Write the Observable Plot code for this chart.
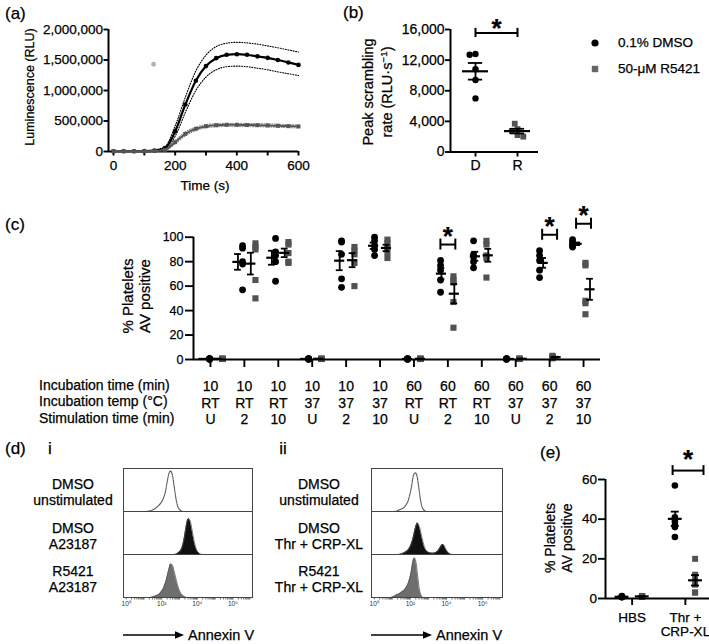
<!DOCTYPE html>
<html>
<head>
<meta charset="utf-8">
<script src="https://cdn.jsdelivr.net/npm/d3@7"></script>
<script src="https://cdn.jsdelivr.net/npm/@observablehq/plot@0.6"></script>
<style>
  html, body { margin:0; padding:0; background:#fff; overflow:hidden; }
  #fig { position:relative; width:709px; height:644px; overflow:hidden; background:#fff;
         font-family:"Liberation Sans", Arial, Helvetica, sans-serif; color:#000; }
  .abs { position:absolute; }
  .lbl { position:absolute; white-space:nowrap; -webkit-text-stroke:0.25px #000; }
  .lbl sup { font-size:0.68em; line-height:0; vertical-align:0.55em; }
  .thick svg text { stroke:#000; stroke-width:0.25px; }
  .thick svg g[aria-label*="axis"] path, .thick svg g[aria-label*="axis"] line { stroke-width:1.9px; }
  .thin svg g[aria-label*="axis"] path, .thin svg g[aria-label*="axis"] line { stroke-width:0.7px; }
</style>
</head>
<body>
<div id="fig"></div>
<script>
const FONT = '"Liberation Sans", Arial, Helvetica, sans-serif';
const fig = document.getElementById("fig");

// ================= DATA =================
// (a) luminescence time course (RLU)
const timeS      = [0, 33, 67, 100, 133, 167, 200, 233, 267, 300, 333, 367, 400, 433, 467, 500, 533, 567, 600];
const dmsoMean   = [5000, 5000, 5000, 6000, 15000, 55000, 330000, 770000, 1160000, 1400000, 1530000, 1585000, 1595000, 1585000, 1560000, 1535000, 1500000, 1460000, 1420000];
const dmsoUpper  = [10000, 10000, 10000, 12000, 28000, 80000, 420000, 890000, 1320000, 1580000, 1720000, 1775000, 1790000, 1780000, 1760000, 1730000, 1700000, 1665000, 1630000];
const dmsoLower  = [0, 0, 0, 0, 5000, 30000, 250000, 640000, 1000000, 1220000, 1340000, 1390000, 1400000, 1390000, 1365000, 1340000, 1305000, 1275000, 1245000];
const r5421Mean  = [5000, 5000, 5000, 5000, 8000, 27000, 153000, 290000, 372000, 415000, 431000, 437000, 437000, 434000, 432000, 428000, 422000, 416000, 410000];
const r5421Upper = [10000, 10000, 10000, 10000, 14000, 38000, 185000, 325000, 400000, 442000, 456000, 462000, 462000, 459000, 457000, 453000, 447000, 441000, 435000];
const r5421Lower = [0, 0, 0, 0, 3000, 16000, 120000, 255000, 342000, 388000, 405000, 412000, 412000, 409000, 407000, 403000, 397000, 391000, 385000];
const strayTime  = [130];
const strayValue = [1430000];

// (b) peak scrambling rate (RLU/s)
const peakGroups = ["D", "R"];
const peakDMSO   = [12800, 12700, 10800, 9400, 7000];
const peakR5421  = [3000, 3700, 2750, 2200, 2000];

// (c) % platelets AV positive
const incTime  = ["10", "10", "10", "10", "10", "10", "60", "60", "60", "60", "60", "60"];
const incTemp  = ["RT", "RT", "RT", "37", "37", "37", "RT", "RT", "RT", "37", "37", "37"];
const stimTime = ["U", "2", "10", "U", "2", "10", "U", "2", "10", "U", "2", "10"];
const avDMSO = [
  [0.5, 0.4, 0.6, 0.3, 0.5], [93, 91, 80, 78, 57], [99, 88, 85, 80, 64],
  [0.5, 0.4, 0.6, 0.3, 0.5], [97, 96, 86, 66, 59], [100, 97, 93, 90, 85],
  [0.5, 0.4, 0.6, 0.3, 0.5], [81, 77, 73, 65, 55], [97, 86, 84, 80, 75],
  [0.5, 0.4, 0.6, 0.3, 0.5], [89, 85, 81, 73, 67], [98, 96, 94, 93, 92]
];
const avR5421 = [
  [0.6, 0.5, 0.4, 0.7, 0.5], [95, 92, 90, 65, 50], [96, 94, 87, 80, 79],
  [0.6, 0.5, 0.4, 0.7, 0.5], [92, 89, 86, 79, 60], [98, 95, 92, 88, 83],
  [0.6, 0.5, 0.4, 0.7, 0.5], [68, 65, 63, 47, 26], [97, 94, 85, 83, 67],
  [0.6, 0.5, 0.4, 0.7, 0.5], [2, 1.5, 3, 1, 2], [79, 77, 48, 46, 37]
];
const sigC = [7, 10, 11];

// (d) flow cytometry histograms (log10 Annexin V, normalised count)
const fI_unstimX = [-0.15, 1.1, 1.5, 1.8, 2.05, 2.2, 2.3, 2.4, 2.5, 2.6, 2.7, 2.8, 2.9, 3.05, 3.2, 7.1];
const fI_unstimY = [0, 0, 0.04, 0.13, 0.27, 0.45, 0.68, 0.88, 0.94, 0.84, 0.58, 0.3, 0.12, 0.03, 0, 0];
const fI_dmsoX   = [-0.15, 2.7, 2.9, 3.1, 3.25, 3.35, 3.45, 3.52, 3.6, 3.7, 3.8, 3.95, 4.1, 4.25, 7.1];
const fI_dmsoY   = [0, 0, 0.03, 0.12, 0.35, 0.6, 0.8, 0.83, 0.78, 0.58, 0.35, 0.12, 0.03, 0, 0];
const fI_r5421X  = [-0.15, 1.3, 1.6, 1.9, 2.1, 2.25, 2.4, 2.5, 2.6, 2.7, 2.85, 3.0, 3.2, 3.4, 7.1];
const fI_r5421Y  = [0, 0, 0.03, 0.1, 0.22, 0.4, 0.65, 0.78, 0.75, 0.6, 0.35, 0.15, 0.04, 0, 0];
const fII_unstimX = [-0.15, 1.1, 1.4, 1.7, 1.9, 2.05, 2.18, 2.28, 2.37, 2.47, 2.57, 2.7, 2.9, 7.1];
const fII_unstimY = [0, 0, 0.04, 0.12, 0.28, 0.55, 0.85, 0.9, 0.82, 0.55, 0.25, 0.06, 0, 0];
const fII_dmsoX   = [-0.15, 1.35, 1.65, 1.95, 2.15, 2.3, 2.4, 2.5, 2.65, 2.8, 3.0, 3.25, 3.5, 3.65, 3.78, 3.85, 3.95, 4.1, 4.3, 7.1];
const fII_dmsoY   = [0, 0, 0.04, 0.15, 0.38, 0.65, 0.73, 0.65, 0.38, 0.15, 0.05, 0.03, 0.07, 0.16, 0.23, 0.22, 0.14, 0.04, 0, 0];
const fII_r5421X  = [-0.15, 0.9, 1.2, 1.5, 1.75, 1.9, 2.05, 2.15, 2.23, 2.32, 2.42, 2.52, 2.7, 7.1];
const fII_r5421Y  = [0, 0, 0.05, 0.12, 0.22, 0.35, 0.6, 0.85, 0.92, 0.8, 0.45, 0.15, 0, 0];

// (e) % platelets AV positive
const eGroups = ["HBS", "Thr +\nCRP-XL"];
const eDMSO  = [[1.0, 0.8, 0.6, 1.2, 0.9, 0.7], [57, 41, 39, 37, 36, 31]];
const eR5421 = [[1.1, 1.3, 0.9, 1.0, 0.8, 1.2], [20, 12, 10, 7, 3, 3]];
const sigE = [1];

// ================= HELPERS =================
const styleBase = (size, color = "#000") => ({background: "transparent", overflow: "visible", fontFamily: FONT, fontSize: size + "px", color});
function place(node, left, top, width, cls = "") {
  const d = document.createElement("div");
  d.className = "abs " + cls;
  Object.assign(d.style, {left: left + "px", top: top + "px", width: width + "px"});
  d.appendChild(node);
  fig.appendChild(d);
}
function label(html, o) {
  const d = document.createElement("div");
  d.className = "lbl";
  d.innerHTML = html;
  const size = o.size, lh = o.lh ?? size * 1.15;
  d.style.fontSize = size + "px";
  d.style.lineHeight = lh + "px";
  if (o.weight) d.style.fontWeight = o.weight;
  const n = html.split("<br>").length;
  if (o.rot) {
    Object.assign(d.style, {left: o.x + "px", top: o.cy + "px", textAlign: "center", transform: "translate(-50%,-50%) rotate(-90deg)"});
  } else {
    d.style.top = (o.cy - n * lh / 2) + "px";
    d.style.left = o.x + "px";
    if (o.align === "center") { d.style.transform = "translateX(-50%)"; d.style.textAlign = "center"; }
  }
  fig.appendChild(d);
}
function stat(v) {
  const m = d3.mean(v), s = d3.deviation(v) / Math.sqrt(v.length);
  return {mean: m, lo: m - s, hi: m + s};
}

function scatterPanel(c) {
  const inset = c.inset ?? 0;
  const frameW = c.W - c.mL - c.mR - inset;
  const pxPerUnit = frameW / (c.xDomain[1] - c.xDomain[0]);
  const rows = c.groups.flatMap((g, i) => [
    ...g.dmso.map(v => ({cat: i, s: "D", v})),
    ...g.r5421.map(v => ({cat: i, s: "R", v}))
  ]);
  const stats = c.groups.flatMap((g, i) => [
    ...(g.dmso.length ? [{x: i - c.off, ...stat(g.dmso)}] : []),
    ...(g.r5421.length ? [{x: i + c.off, ...stat(g.r5421)}] : [])
  ]);
  const dots = Plot.plot({
    width: c.W, height: c.H, marginLeft: c.mL + inset, marginRight: c.mR, marginTop: c.mT, marginBottom: c.mB,
    style: styleBase(c.font),
    fx: {domain: c.groups.map((g, i) => i), padding: 0, axis: null},
    y: {domain: c.yDomain, axis: null},
    marks: [
      Plot.dot(rows.filter(d => d.s === "D"), Plot.dodgeX({anchor: "middle", padding: c.pad},
        {fx: "cat", y: "v", r: c.r, fill: "#000", dx: -c.off * pxPerUnit})),
      Plot.dot(rows.filter(d => d.s === "R"), Plot.dodgeX({anchor: "middle", padding: c.pad},
        {fx: "cat", y: "v", r: c.r * 1.02, symbol: "square", fill: "#525252", dx: c.off * pxPerUnit}))
    ]
  });
  const main = Plot.plot({
    width: c.W, height: c.H, marginLeft: c.mL, marginRight: c.mR, marginTop: c.mT, marginBottom: c.mB, insetLeft: inset,
    style: styleBase(c.font),
    x: {domain: c.xDomain, ticks: c.xTicks, tickFormat: c.xFmt, tickSize: c.tick, tickPadding: c.xPad ?? 3, label: null},
    y: {domain: c.yDomain, ticks: c.yTicks, tickFormat: c.yFmt, tickSize: c.tick, tickPadding: c.yPad ?? 1.5, label: null},
    marks: [
      Plot.ruleY([c.yDomain[0]], {strokeWidth: 2}),
      Plot.ruleX([c.xDomain[0]], {dx: -inset, y1: c.yDomain[0], y2: c.yDomain[1], strokeWidth: 2}),
      Plot.ruleX(stats, {x: "x", y1: "lo", y2: "hi", strokeWidth: 1.8}),
      Plot.ruleY(stats, {y: "lo", x1: d => d.x - c.cw, x2: d => d.x + c.cw, strokeWidth: 1.8}),
      Plot.ruleY(stats, {y: "hi", x1: d => d.x - c.cw, x2: d => d.x + c.cw, strokeWidth: 1.8}),
      Plot.ruleY(stats, {y: "mean", x1: d => d.x - c.hw, x2: d => d.x + c.hw, strokeWidth: 2.2}),
      Plot.ruleY(c.brackets, {y: "y", x1: "x1", x2: "x2", strokeWidth: 2}),
      Plot.ruleX(c.brackets, {x: "x1", y1: d => d.y - c.capH, y2: d => d.y + c.capH, strokeWidth: 2}),
      Plot.ruleX(c.brackets, {x: "x2", y1: d => d.y - c.capH, y2: d => d.y + c.capH, strokeWidth: 2}),
      Plot.text(c.brackets, {x: d => (d.x1 + d.x2) / 2, y: "y", text: () => "*", dy: c.starDy, fontSize: 26, fontWeight: "bold"}),
      ...(c.extra ?? [])
    ]
  });
  place(dots, c.left, c.top, c.W);
  place(main, c.left, c.top, c.W, "thick");
}

// ================= (a) =================
const aRows = timeS.map((t, i) => ({t, dm: dmsoMean[i], du: dmsoUpper[i], dl: dmsoLower[i], rm: r5421Mean[i], ru: r5421Upper[i], rl: r5421Lower[i]}));
const plotA = Plot.plot({
  width: 320, height: 185, marginLeft: 108, marginRight: 22, marginTop: 29, marginBottom: 34, insetLeft: 5,
  style: styleBase(13.5),
  x: {domain: [0, 600], ticks: d3.range(0, 601, 100), tickFormat: d => d % 200 === 0 ? String(d) : "", tickSize: 4.5, tickPadding: 4, label: null},
  y: {domain: [0, 2000000], ticks: [0, 500000, 1000000, 1500000, 2000000], tickFormat: d3.format(","), tickSize: 4.5, tickPadding: 1, label: null},
  marks: [
    Plot.ruleY([0], {strokeWidth: 2}),
    Plot.ruleX([0], {dx: -5, strokeWidth: 2}),
    Plot.lineY(aRows, {x: "t", y: "du", stroke: "#000", strokeWidth: 1.1, strokeDasharray: "1,1.6", curve: "monotone-x"}),
    Plot.lineY(aRows, {x: "t", y: "dl", stroke: "#000", strokeWidth: 1.1, strokeDasharray: "1,1.6", curve: "monotone-x"}),
    Plot.lineY(aRows, {x: "t", y: "dm", stroke: "#000", strokeWidth: 2.2, curve: "monotone-x"}),
    Plot.dot(aRows, {x: "t", y: "dm", r: 2.3, fill: "#000"}),
    Plot.lineY(aRows, {x: "t", y: "ru", stroke: "#777", strokeWidth: 1, strokeDasharray: "1,1.6", curve: "monotone-x"}),
    Plot.lineY(aRows, {x: "t", y: "rl", stroke: "#777", strokeWidth: 1, strokeDasharray: "1,1.6", curve: "monotone-x"}),
    Plot.lineY(aRows, {x: "t", y: "rm", stroke: "#555", strokeWidth: 2, curve: "monotone-x"}),
    Plot.dot(aRows, {x: "t", y: "rm", r: 2.2, symbol: "square", fill: "#555"}),
    Plot.dot(strayTime.map((t, i) => ({t, v: strayValue[i]})), {x: "t", y: "v", r: 2.4, fill: "#b3b3b3"})
  ]
});
place(plotA, 0, 0, 320, "thick");

// ================= (b) =================
scatterPanel({
  left: 360, top: 0, W: 200, H: 185, mL: 90, mR: 22, mT: 29, mB: 33.5, inset: 4,
  xDomain: [-0.5, 1.5], xTicks: [0, 1], xFmt: i => peakGroups[i],
  yDomain: [0, 16000], yTicks: [0, 4000, 8000, 12000, 16000], yFmt: d3.format(","),
  tick: 5, font: 14, xPad: 3, yPad: 1,
  groups: [{dmso: peakDMSO, r5421: []}, {dmso: [], r5421: peakR5421}],
  off: 0, hw: 0.31, cw: 0.17, r: 3.2, pad: -0.5,
  brackets: [{x1: 0, x2: 1, y: d3.max(peakDMSO) + 2750}], capH: 600, starDy: -4
});

// ================= (c) =================
scatterPanel({
  left: 0, top: 200, W: 620, H: 240, mL: 193, mR: 20, mT: 36.7, mB: 81,
  xDomain: [-0.5, 11.5], xTicks: d3.range(incTime.length), xFmt: () => "",
  yDomain: [0, 100], yTicks: [0, 20, 40, 60, 80, 100], yFmt: d => String(d),
  tick: 8, font: 12.5, yPad: 2,
  groups: incTime.map((t, i) => ({dmso: avDMSO[i], r5421: avR5421[i]})),
  off: 0.19, hw: 0.15, cw: 0.1, r: 3.4, pad: -5,
  brackets: sigC.map(i => ({x1: i - 0.22, x2: i + 0.22, y: Math.max(d3.max(avDMSO[i]), d3.max(avR5421[i])) + 13})),
  capH: 4.5, starDy: -8,
  extra: [
    Plot.text(incTime.map((t, i) => ({x: i, label: `${t}\n${incTemp[i]}\n${stimTime[i]}`})),
      {x: "x", frameAnchor: "bottom", text: "label", dy: 42.7, lineAnchor: "middle", lineHeight: 1.19, fontSize: 14})
  ]
});

// ================= (e) =================
scatterPanel({
  left: 540, top: 440, W: 175, H: 204, mL: 65, mR: 3.5, mT: 39, mB: 46,
  xDomain: [-0.5, 1.5], xTicks: [0, 1], xFmt: () => "",
  yDomain: [0, 60], yTicks: [0, 20, 40, 60], yFmt: d => String(d),
  tick: 7, font: 13.5, yPad: 1.5,
  groups: eGroups.map((g, i) => ({dmso: eDMSO[i], r5421: eR5421[i]})),
  off: 0.19, hw: 0.13, cw: 0.075, r: 3.3, pad: -3.6,
  brackets: sigE.map(i => ({x1: i - 0.24, x2: i + 0.34, y: d3.max(eDMSO[i]) + 7.5})),
  capH: 2.5, starDy: -11,
  extra: [
    Plot.text(eGroups.map((g, i) => ({x: i, label: g})),
      {x: "x", frameAnchor: "bottom", text: "label", dy: 13, lineAnchor: "top", lineHeight: 1.05, fontSize: 13.5})
  ]
});

// ================= (d) =================
function flowPanel(mL, curves) {
  const rows = curves.flatMap(c => c.x.map((x, i) => ({row: c.row, x, y: c.y[i]})));
  const pick = k => rows.filter(d => d.row === k);
  const domain = [-0.15, 7.1];
  const ticks = d3.range(0, 7).flatMap(n => d3.range(1, 10).map(k => n + Math.log10(k))).filter(v => v <= domain[1]);
  const sup = {0: "\u2070", 2: "\u00B2", 4: "\u2074", 6: "\u2076"};
  const C = {x: "x", y: "y", fy: "row", curve: "monotone-x"};
  return Plot.plot({
    width: 165, height: 160, marginLeft: mL, marginRight: 13, marginTop: 7, marginBottom: 23,
    style: styleBase(6.5, "#333"),
    fy: {domain: ["r1", "r2", "r3"], padding: 0, axis: null},
    x: {domain, ticks, tickFormat: d => {
          const n = Math.round(d);
          return Math.abs(d - n) < 1e-9 && n % 2 === 0 ? "10" + sup[n] : "";
        }, tickSize: 2.5, tickPadding: 1.5, label: null},
    y: {domain: [0, 1], axis: null},
    marks: [
      Plot.areaY(pick("r1"), {...C, fill: "#fff"}),
      Plot.lineY(pick("r1"), {...C, stroke: "#5e5e5e", strokeWidth: 1.2, strokeDasharray: "1.2,1"}),
      Plot.areaY(pick("r2"), {...C, fill: "#111"}),
      Plot.lineY(pick("r2"), {...C, stroke: "#555", strokeWidth: 0.8}),
      Plot.areaY(pick("r3"), {...C, fill: "#6e6e6e"}),
      Plot.lineY(pick("r3"), {...C, stroke: "#555", strokeWidth: 0.8}),
      Plot.frame({stroke: "#444", strokeWidth: 1})
    ]
  });
}
place(flowPanel(23, [
  {row: "r1", x: fI_unstimX, y: fI_unstimY},
  {row: "r2", x: fI_dmsoX, y: fI_dmsoY},
  {row: "r3", x: fI_r5421X, y: fI_r5421Y}
]), 100, 460, 165, "thin");
place(flowPanel(21, [
  {row: "r1", x: fII_unstimX, y: fII_unstimY},
  {row: "r2", x: fII_dmsoX, y: fII_dmsoY},
  {row: "r3", x: fII_r5421X, y: fII_r5421Y}
]), 350, 460, 165, "thin");

// ================= TEXT =================
label("(a)", {x: 5, cy: 13.5, size: 17});
label("Luminescence (RLU)", {x: 29.5, cy: 87, size: 12.5, rot: true});
label("Time (s)", {x: 205, cy: 186, size: 13.5, align: "center"});
label("(b)", {x: 343, cy: 13, size: 17});
label("Peak scrambling<br>rate (RLU\u00B7s<sup>\u22121</sup>)", {x: 377.5, cy: 92, size: 14.5, lh: 19, rot: true});
label("0.1% DMSO", {x: 618, cy: 43, size: 13.5});
label("50-\u03BCM R5421", {x: 618, cy: 69, size: 13.5});
label("(c)", {x: 5, cy: 225, size: 17});
label("% Platelets<br>AV positive", {x: 135.75, cy: 296, size: 15, lh: 16.5, rot: true});
label("Incubation time (min)<br>Incubation temp (\u00B0C)<br>Stimulation time (min)", {x: 39, cy: 401.7, size: 14, lh: 16.7});
label("(d)", {x: 5, cy: 449, size: 17});
label("i", {x: 50, cy: 449, size: 17, align: "center"});
label("ii", {x: 283, cy: 449, size: 17, align: "center"});
label("DMSO<br>unstimulated", {x: 73, cy: 492, size: 14, lh: 16, align: "center"});
label("DMSO<br>A23187", {x: 73, cy: 535.5, size: 14, lh: 16, align: "center"});
label("R5421<br>A23187", {x: 73, cy: 578.5, size: 14, lh: 16, align: "center"});
label("DMSO<br>unstimulated", {x: 319, cy: 492, size: 14, lh: 16, align: "center"});
label("DMSO<br>Thr + CRP-XL", {x: 319, cy: 535.5, size: 14, lh: 16, align: "center"});
label("R5421<br>Thr + CRP-XL", {x: 319, cy: 578.5, size: 14, lh: 16, align: "center"});
label("Annexin V", {x: 188, cy: 635, size: 14.5});
label("Annexin V", {x: 436, cy: 635, size: 14.5});
label("(e)", {x: 540, cy: 453, size: 17});
label("% Platelets<br>AV positive", {x: 558.5, cy: 538, size: 14, lh: 17, rot: true});

// legend symbols and arrows (decorations)
function deco(html, left, top) {
  const d = document.createElement("div");
  d.className = "abs";
  Object.assign(d.style, {left: left + "px", top: top + "px", lineHeight: 0});
  d.innerHTML = html;
  fig.appendChild(d);
}
deco('<svg width="10" height="10"><circle cx="5" cy="5" r="3.6" fill="#000"/></svg>', 590, 38);
deco('<svg width="10" height="10"><rect x="1.8" y="1.8" width="6.4" height="6.4" fill="#666"/></svg>', 590, 64);
const arrowSvg = '<svg width="64" height="10"><line x1="0" y1="5" x2="55" y2="5" stroke="#000" stroke-width="1.3"/><polygon points="52,1.3 61,5 52,8.7" fill="#000"/></svg>';
deco(arrowSvg, 123, 630);
deco(arrowSvg, 371, 630);
</script>
</body>
</html>
